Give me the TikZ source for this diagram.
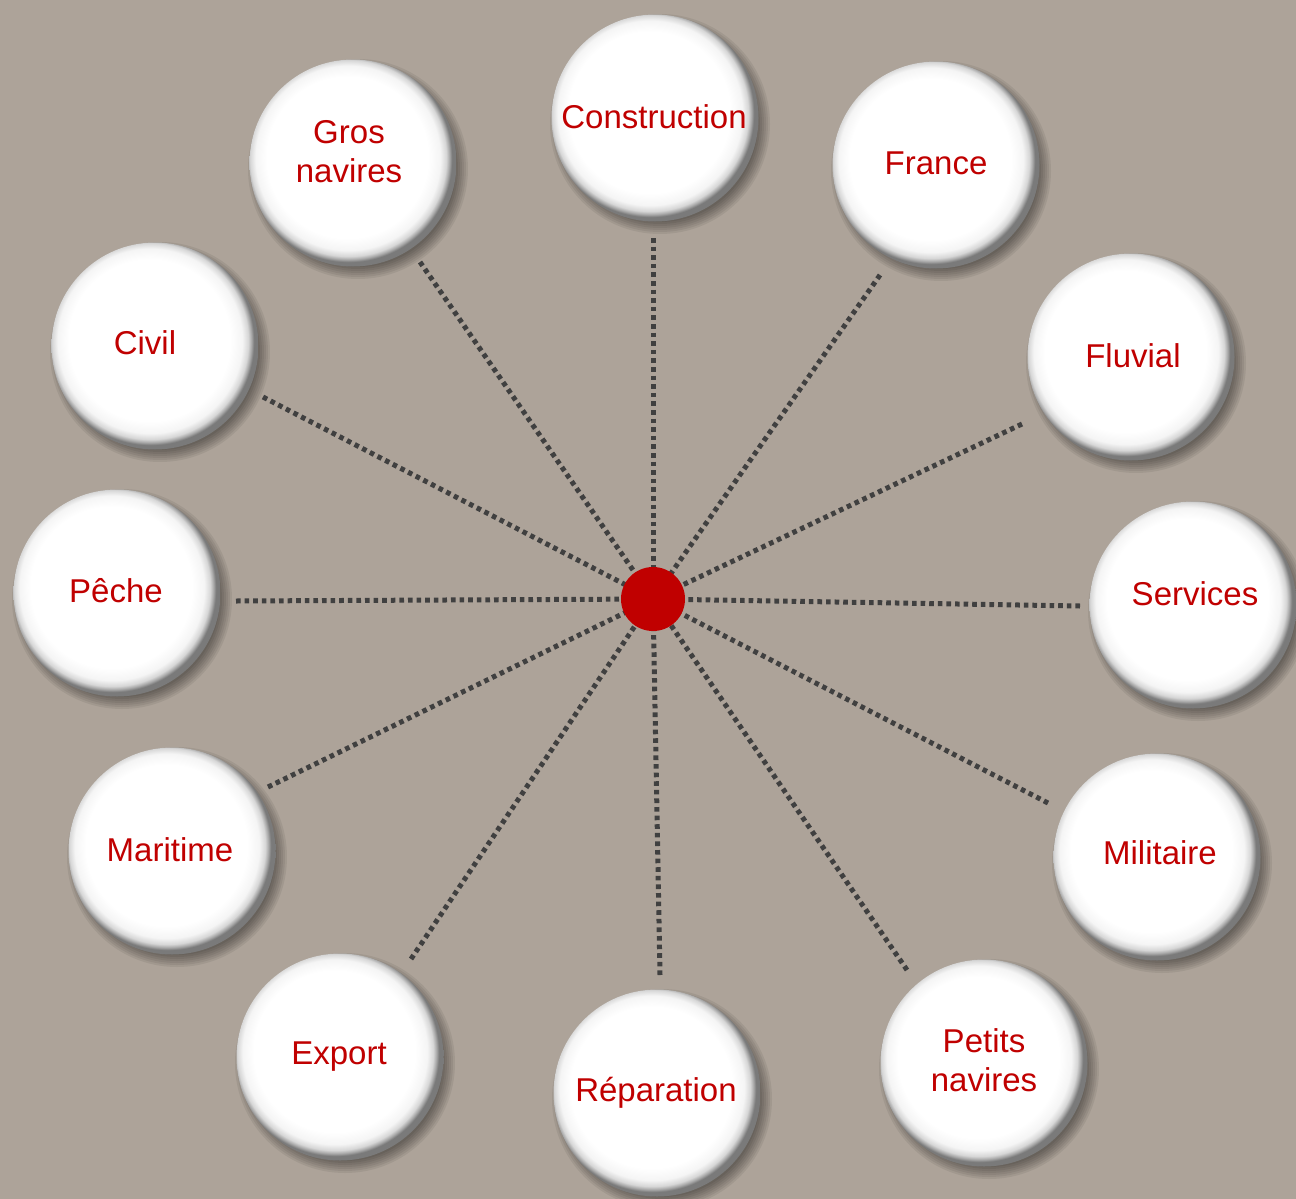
\documentclass[tikz,border=0pt]{standalone}
\usepackage{fontspec}
\setmainfont{Liberation Sans}
\definecolor{bgc}{RGB}{173,163,153}
\definecolor{txtred}{RGB}{192,0,0}
\definecolor{dotc}{RGB}{64,64,64}
\pgfdeclareradialshading{btnshade}{\pgfpoint{-2.2bp}{2.2bp}}{%
  color(0bp)=(white); color(19.5bp)=(white); color(22.3bp)=(white!96!black);
  color(23.7bp)=(white!84!black); color(24.5bp)=(white!64!black);
  color(25bp)=(white!48!black); color(50bp)=(white!48!black)}
\tikzset{
  btn/.style={circle, minimum size=103.5pt, inner sep=0pt, shading=btnshade},
  shad/.style={fill=black, fill opacity=0.065},
  lbl/.style={text=txtred, font=\fontsize{16.5}{19.5}\selectfont, align=center, inner sep=0pt},
  spoke/.style={draw=dotc, line width=2.5pt, dash pattern=on 2.3pt off 2pt},
  hubst/.style={circle, fill=txtred, minimum size=32pt, inner sep=0pt}
}
\begin{document}
\begin{tikzpicture}[x=0.5pt,y=-0.5pt]
\fill[bgc] (0,0) rectangle (1296,1199);
\useasboundingbox (0,0) rectangle (1296,1199);
\begin{scope}
\clip (0,0) rectangle (1296,1199);
% free ends of spokes
\coordinate (hc) at (653,599);
\coordinate (e1) at (653,238);
\coordinate (e2) at (880,275);
\coordinate (e3) at (1022,424);
\coordinate (e4) at (1080,606);
\coordinate (e5) at (1048,803);
\coordinate (e6) at (907,970);
\coordinate (e7) at (660,975);
\coordinate (e8) at (411,959);
\coordinate (e9) at (268,787);
\coordinate (e10) at (236,601);
\coordinate (e11) at (263,397);
\coordinate (e12) at (420,262);
\foreach \i in {1,...,12} {\draw[spoke] (e\i) -- (hc);}
\node[hubst] (hub) at (hc) {};
% soft drop shadows
\foreach \x/\y in {655/118,936/165,1131/357,1193/605,1157/857,984/1063,657/1093,340/1057,172/851,117/593,155/346,353/163}{
  \foreach \r in {98,100,...,110}{\fill[shad] (\x+5,\y+6) circle (\r);}
}
% buttons
\node[btn] (c1) at (655,118) {};
\node[btn] (c2) at (936,165) {};
\node[btn] (c3) at (1131,357) {};
\node[btn] (c4) at (1193,605) {};
\node[btn] (c5) at (1157,857) {};
\node[btn] (c6) at (984,1063) {};
\node[btn] (c7) at (657,1093) {};
\node[btn] (c8) at (340,1057) {};
\node[btn] (c9) at (172,851) {};
\node[btn] (c10) at (117,593) {};
\node[btn] (c11) at (155,346) {};
\node[btn] (c12) at (353,163) {};
% labels
\node[lbl] (t1) at (654,117) {Construction};
\node[lbl] (t2) at (936,163) {France};
\node[lbl] (t3) at (1133,356) {Fluvial};
\node[lbl] (t4) at (1195,594) {Services};
\node[lbl] (t5) at (1160,853) {Militaire};
\node[lbl] (t6) at (984,1060) {Petits\\navires};
\node[lbl] (t7) at (656,1093) {Réparation};
\node[lbl] (t8) at (339,1057) {Export};
\node[lbl] (t9) at (170,850) {Maritime};
\node[lbl] (t10) at (116,591) {Pêche};
\node[lbl] (t11) at (145,343) {Civil};
\node[lbl] (t12) at (349,152) {Gros\\navires};
\end{scope}
\end{tikzpicture}
\end{document}
